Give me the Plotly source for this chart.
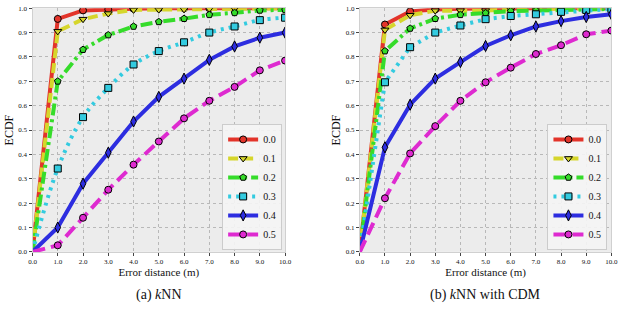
import plotly.graph_objects as go

# ---------------- data ----------------
x_pts = [0, 1, 2, 3, 4, 5, 6, 7, 8, 9, 10]
series_labels = ["0.0", "0.1", "0.2", "0.3", "0.4", "0.5"]
x_tick_vals = [0, 1, 2, 3, 4, 5, 6, 7, 8, 9, 10]
x_tick_text = ["0.0", "1.0", "2.0", "3.0", "4.0", "5.0", "6.0", "7.0", "8.0", "9.0", "10.0"]
y_tick_vals = [0, 0.1, 0.2, 0.3, 0.4, 0.5, 0.6, 0.7, 0.8, 0.9, 1.0]
y_tick_text = ["0.0", "0.1", "0.2", "0.3", "0.4", "0.5", "0.6", "0.7", "0.8", "0.9", "1.0"]

# (a) kNN
knn_00 = [0, 0.956, 0.991, 0.996, 0.998, 1.0, 1.0, 1.0, 1.0, 1.0, 1.0]
knn_01 = [0, 0.905, 0.955, 0.978, 0.993, 0.994, 0.995, 0.997, 0.998, 1.0, 1.0]
knn_02 = [0, 0.700, 0.830, 0.890, 0.925, 0.944, 0.957, 0.973, 0.981, 0.991, 0.993]
knn_03 = [0, 0.342, 0.553, 0.673, 0.769, 0.824, 0.860, 0.900, 0.925, 0.951, 0.961]
knn_04 = [0, 0.100, 0.280, 0.407, 0.535, 0.636, 0.711, 0.788, 0.843, 0.879, 0.900]
knn_05 = [0, 0.027, 0.140, 0.255, 0.358, 0.453, 0.548, 0.620, 0.677, 0.745, 0.785]

# (b) kNN with CDM
cdm_00 = [0, 0.933, 0.987, 0.995, 0.998, 1.0, 1.0, 1.0, 1.0, 1.0, 1.0]
cdm_01 = [0, 0.911, 0.971, 0.990, 0.990, 0.990, 0.995, 0.997, 0.998, 1.0, 1.0]
cdm_02 = [0, 0.824, 0.917, 0.957, 0.973, 0.980, 0.988, 0.990, 0.993, 0.997, 0.997]
cdm_03 = [0, 0.696, 0.840, 0.900, 0.929, 0.955, 0.968, 0.975, 0.985, 0.993, 0.997]
cdm_04 = [0, 0.429, 0.604, 0.711, 0.779, 0.845, 0.889, 0.925, 0.947, 0.964, 0.975]
cdm_05 = [0, 0.220, 0.404, 0.516, 0.620, 0.696, 0.756, 0.812, 0.848, 0.893, 0.908]

knn_series = [knn_00, knn_01, knn_02, knn_03, knn_04, knn_05]
cdm_series = [cdm_00, cdm_01, cdm_02, cdm_03, cdm_04, cdm_05]

# ---------------- styles ----------------
colors = ["#e3342a", "#d6d62c", "#35dc2a", "#33cbe0", "#2d2de0", "#de2ad0"]
dashes = ["solid", "10px,5px", "12px,4px,3px,4px", "3px,5px", "solid", "13px,6px"]
symbols = ["circle", "triangle-down", "pentagon", "square", "diamond-tall", "circle"]
msizes = [7, 7, 7, 7, 8, 7]
serif = "Liberation Serif, Times New Roman, serif"
LW = 4

fig = go.Figure()

def add_panel(series, xa, ya, legend_name):
    for i, ys in enumerate(series):
        shape = "spline" if (xa == "x" and i == 3) else "linear"
        opac = [0] + [1] * (len(ys) - 1)
        fig.add_trace(go.Scatter(
            x=x_pts, y=ys, mode="lines+markers",
            line=dict(color=colors[i], width=LW, dash=dashes[i], shape=shape),
            marker=dict(symbol=symbols[i], size=msizes[i], color=colors[i],
                        opacity=opac, line=dict(color="black", width=1)),
            xaxis=xa, yaxis=ya, showlegend=False, hoverinfo="skip",
        ))
    for i in range(len(series)):
        fig.add_trace(go.Scatter(
            x=[None], y=[None], mode="lines+markers", name=series_labels[i],
            line=dict(color=colors[i], width=LW, dash=dashes[i]),
            marker=dict(symbol=symbols[i], size=msizes[i], color=colors[i],
                        line=dict(color="black", width=1)),
            xaxis=xa, yaxis=ya, legend=legend_name, showlegend=True,
        ))

add_panel(knn_series, "x", "y", "legend")
add_panel(cdm_series, "x2", "y2", "legend2")

ydom = [(332 - 254) / 332, (332 - 4.3) / 332]
axis_common = dict(
    showgrid=True, gridcolor="#b8b8b8", griddash="dot", gridwidth=1,
    ticks="outside", ticklen=3, tickwidth=1, tickcolor="#444",
    tickfont=dict(family=serif, size=7, color="#111"),
    showline=True, linecolor="#d0d0d0", linewidth=1, mirror=True,
    zeroline=False,
)
xa_common = dict(axis_common, range=[0, 10], tickmode="array",
                 tickvals=x_tick_vals, ticktext=x_tick_text,
                 title=dict(text="Error distance (m)", standoff=3,
                            font=dict(family=serif, size=11, color="#111")))
ya_common = dict(axis_common, range=[0, 1], tickmode="array",
                 tickvals=y_tick_vals, ticktext=y_tick_text,
                 title=dict(text="ECDF", standoff=2,
                            font=dict(family=serif, size=12, color="#111")))

legend_common = dict(
    bgcolor="rgba(245,245,245,0.9)", bordercolor="#cccccc", borderwidth=1,
    font=dict(family=serif, size=10, color="#111"),
    xanchor="right", yanchor="bottom", itemwidth=30, tracegroupgap=0,
)

fig.update_layout(
    width=640, height=332,
    margin=dict(l=0, r=0, t=0, b=0),
    paper_bgcolor="white", plot_bgcolor="#ececec",
    xaxis=dict(xa_common, domain=[29 / 640, 286 / 640], anchor="y"),
    yaxis=dict(ya_common, domain=ydom, anchor="x"),
    xaxis2=dict(xa_common, domain=[362 / 640, 618 / 640], anchor="y2"),
    yaxis2=dict(ya_common, domain=ydom, anchor="x2"),
    legend=dict(legend_common, x=283 / 640, y=(332 - 252) / 332),
    legend2=dict(legend_common, x=614 / 640, y=(332 - 252) / 332),
    annotations=[
        dict(text="(a) <i>k</i>NN", x=157.5 / 640, y=(332 - 298) / 332,
             xref="paper", yref="paper", showarrow=False,
             xanchor="center", yanchor="middle",
             font=dict(family=serif, size=14, color="#111")),
        dict(text="(b) <i>k</i>NN with CDM", x=490 / 640, y=(332 - 298) / 332,
             xref="paper", yref="paper", showarrow=False,
             xanchor="center", yanchor="middle",
             font=dict(family=serif, size=14, color="#111")),
    ],
)

fig.write_html("out.html", config={"displayModeBar": False},
               post_script="document.body.style.margin='0';")
